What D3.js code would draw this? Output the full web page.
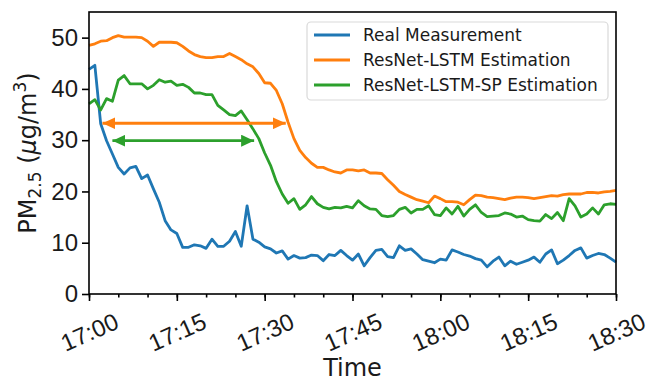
<!DOCTYPE html>
<html>
<head>
<meta charset="utf-8">
<script src="https://cdn.jsdelivr.net/npm/d3@7"></script>
<style>
  body { margin: 0; background: #fff; }
  svg { font-family: "DejaVu Sans", sans-serif; }
</style>
</head>
<body>
<div id="chart"></div>
<script>
// minutes after 17:00, one sample per minute
const minutes = d3.range(0, 91);

const realMeasurement = [
    43.8, 44.6, 33.2, 29.9, 27.3, 24.7, 23.4, 24.6, 24.9, 22.5,
    23.2, 20.5, 17.9, 14.3, 12.5, 11.8, 9.1, 9.1, 9.6, 9.4,
    8.9, 10.7, 9.3, 9.3, 10.3, 12.2, 9.3, 17.2, 10.7, 10.1,
    9.2, 8.8, 8.0, 8.4, 6.8, 7.5, 7.0, 7.1, 7.6, 7.5,
    6.5, 7.7, 7.5, 8.5, 7.5, 6.6, 7.8, 5.5, 7.1, 8.5,
    8.7, 7.3, 7.1, 9.4, 8.5, 8.8, 7.8, 6.7, 6.4, 6.1,
    6.8, 6.6, 8.6, 8.2, 7.7, 7.4, 6.9, 6.6, 5.3, 6.4,
    7.2, 5.5, 6.4, 5.8, 6.2, 6.6, 7.2, 6.2, 7.8, 8.6,
    5.9, 6.6, 7.5, 8.5, 9.0, 7.0, 7.5, 7.9, 7.7, 7.0,
    6.2
];

const resnetLstm = [
    48.5, 48.8, 49.3, 49.4, 50.0, 50.4, 50.1, 50.1, 50.1, 50.0,
    49.3, 48.3, 49.1, 49.1, 49.1, 49.0, 48.3, 47.4, 46.7, 46.3,
    46.1, 46.1, 46.3, 46.3, 46.9, 46.3, 45.7, 44.9, 44.3, 43.0,
    41.2, 41.1, 39.7, 37.1, 33.5, 30.3, 28.0, 26.6, 25.5, 24.7,
    24.7, 24.2, 23.8, 23.6, 24.2, 24.2, 24.0, 24.2, 23.6, 23.6,
    23.5, 22.3, 21.2, 20.0, 19.4, 18.9, 18.4, 18.1, 17.8, 19.1,
    18.6, 18.0, 18.0, 17.9, 17.4, 18.4, 19.3, 19.2, 18.9, 18.8,
    18.6, 18.4, 18.7, 18.9, 18.9, 18.8, 18.6, 18.8, 19.0, 19.2,
    19.1, 19.4, 19.5, 19.5, 19.5, 19.8, 19.8, 19.7, 19.9, 20.0,
    20.2
];

const resnetLstmSp = [
    37.1, 37.9, 35.9, 38.1, 37.6, 41.7, 42.6, 41.0, 41.0, 41.0,
    40.0, 40.7, 41.8, 41.3, 41.5, 40.7, 40.9, 40.3, 39.2, 39.2,
    38.9, 38.9, 36.8, 35.9, 35.0, 34.8, 35.7, 34.0, 32.2, 30.3,
    27.5, 25.1, 21.9, 19.5, 17.7, 18.6, 16.5, 17.4, 19.0, 17.6,
    16.9, 16.6, 16.9, 16.8, 17.1, 16.8, 18.2, 17.2, 16.6, 16.5,
    15.3, 15.1, 15.3, 16.5, 16.9, 15.8, 16.5, 16.5, 17.2, 15.5,
    15.3, 16.8, 15.6, 17.1, 15.2, 16.5, 17.4, 15.9, 15.1, 15.2,
    15.3, 15.8, 15.6, 15.0, 15.2, 14.5, 14.3, 14.2, 15.5, 14.7,
    15.9, 14.3, 18.6, 17.2, 15.0, 15.6, 16.8, 15.6, 17.4, 17.6,
    17.5
];

const seriesNames = ["Real Measurement", "ResNet-LSTM Estimation", "ResNet-LSTM-SP Estimation"];
const colors = ["#1f77b4", "#ff7f0e", "#2ca02c"];

// delay arrows: [from minute, to minute, value]
const lstmDelay = [2.3, 33.6, 33.3];
const spDelay = [4.0, 28.2, 29.9];

const yTicks = [0, 10, 20, 30, 40, 50];

const width = 649, height = 383;
const margin = { top: 12, right: 33, bottom: 89, left: 89 };

const start = new Date(2020, 0, 1, 17, 0);
const toDate = m => new Date(start.getTime() + m * 60000);

const svg = d3.select("#chart").append("svg")
    .attr("width", width)
    .attr("height", height);

const x = d3.scaleTime()
    .domain([toDate(0), toDate(90)])
    .range([margin.left, width - margin.right]);

const y = d3.scaleLinear()
    .domain([0, 55])
    .range([height - margin.bottom, margin.top]);

// lines
const line = d3.line()
    .x((d, i) => x(toDate(minutes[i])))
    .y(d => y(d));

[realMeasurement, resnetLstm, resnetLstmSp].forEach((s, i) => {
    svg.append("path")
        .datum(s)
        .attr("fill", "none")
        .attr("stroke", colors[i])
        .attr("stroke-width", 2.8)
        .attr("stroke-linejoin", "round")
        .attr("d", line);
});

// arrow heads
const defs = svg.append("defs");
[["orange", colors[1]], ["green", colors[2]]].forEach(([id, c]) => {
    defs.append("marker")
        .attr("id", "head-" + id)
        .attr("viewBox", "0 0 13 12")
        .attr("refX", 13).attr("refY", 6)
        .attr("markerUnits", "userSpaceOnUse")
        .attr("markerWidth", 13).attr("markerHeight", 12)
        .attr("orient", "auto-start-reverse")
        .append("path")
        .attr("d", "M0,0L13,6L0,12Z")
        .attr("fill", c);
});

[[lstmDelay, "orange", colors[1]], [spDelay, "green", colors[2]]].forEach(([a, id, c]) => {
    svg.append("line")
        .attr("x1", x(toDate(a[0]))).attr("x2", x(toDate(a[1])))
        .attr("y1", y(a[2])).attr("y2", y(a[2]))
        .attr("stroke", c)
        .attr("stroke-width", 2.8)
        .attr("marker-start", `url(#head-${id})`)
        .attr("marker-end", `url(#head-${id})`);
});

// axes
const xAxis = d3.axisBottom(x)
    .ticks(d3.timeMinute.every(15))
    .tickFormat(d3.timeFormat("%H:%M"))
    .tickSize(7).tickSizeOuter(0);

const xMinor = d3.axisBottom(x)
    .ticks(d3.timeMinute.every(5))
    .tickFormat("")
    .tickSize(3.5).tickSizeOuter(0);

const gxm = svg.append("g")
    .attr("transform", `translate(0,${height - margin.bottom})`)
    .call(xMinor);
gxm.select(".domain").remove();

const gx = svg.append("g")
    .attr("transform", `translate(0,${height - margin.bottom})`)
    .call(xAxis);
gx.select(".domain").remove();
gx.selectAll(".tick text")
    .attr("font-size", 24)
    .attr("fill", "#1a1a1a")
    .attr("y", 0).attr("dy", 0)
    .attr("text-anchor", "middle")
    .attr("dominant-baseline", "central")
    .attr("transform", "translate(0,38) rotate(-24)");

const gy = svg.append("g")
    .attr("transform", `translate(${margin.left},0)`)
    .call(d3.axisLeft(y).tickValues(yTicks).tickSize(7).tickPadding(4));
gy.select(".domain").remove();
gy.selectAll(".tick text")
    .attr("font-size", 24)
    .attr("fill", "#1a1a1a");

svg.selectAll(".tick line").attr("stroke", "#000").attr("stroke-width", 1.6);

// frame
svg.append("rect")
    .attr("x", margin.left).attr("y", margin.top)
    .attr("width", width - margin.left - margin.right)
    .attr("height", height - margin.top - margin.bottom)
    .attr("fill", "none")
    .attr("stroke", "#000")
    .attr("stroke-width", 1.6);

// axis labels
svg.append("text")
    .attr("x", (margin.left + width - margin.right) / 2)
    .attr("y", 376)
    .attr("text-anchor", "middle")
    .attr("font-size", 24)
    .attr("fill", "#1a1a1a")
    .text("Time");

const yl = svg.append("text")
    .attr("transform", `translate(36,${(margin.top + height - margin.bottom) / 2}) rotate(-90)`)
    .attr("text-anchor", "middle")
    .attr("font-size", 24)
    .attr("fill", "#1a1a1a");
yl.append("tspan").text("PM");
yl.append("tspan").attr("font-size", 17).attr("dy", 5).text("2.5");
yl.append("tspan").attr("dy", -5).text(" (");
yl.append("tspan").attr("font-style", "italic").text("μ");
yl.append("tspan").text("g/m");
yl.append("tspan").attr("font-size", 17).attr("dy", -10).text("3");
yl.append("tspan").attr("dy", 10).text(")");

// legend
const lg = svg.append("g");
lg.append("rect")
    .attr("x", 307).attr("y", 22)
    .attr("width", 301).attr("height", 78)
    .attr("rx", 4)
    .attr("fill", "#fff").attr("fill-opacity", 0.8)
    .attr("stroke", "#d9d9d9").attr("stroke-width", 1.2);

seriesNames.forEach((name, i) => {
    const yy = 35 + i * 25;
    lg.append("line")
        .attr("x1", 314).attr("x2", 350)
        .attr("y1", yy).attr("y2", yy)
        .attr("stroke", colors[i]).attr("stroke-width", 2.8);
    lg.append("text")
        .attr("x", 363).attr("y", yy)
        .attr("dy", "0.36em")
        .attr("font-size", 17)
        .attr("fill", "#1a1a1a")
        .text(name);
});
</script>
</body>
</html>
